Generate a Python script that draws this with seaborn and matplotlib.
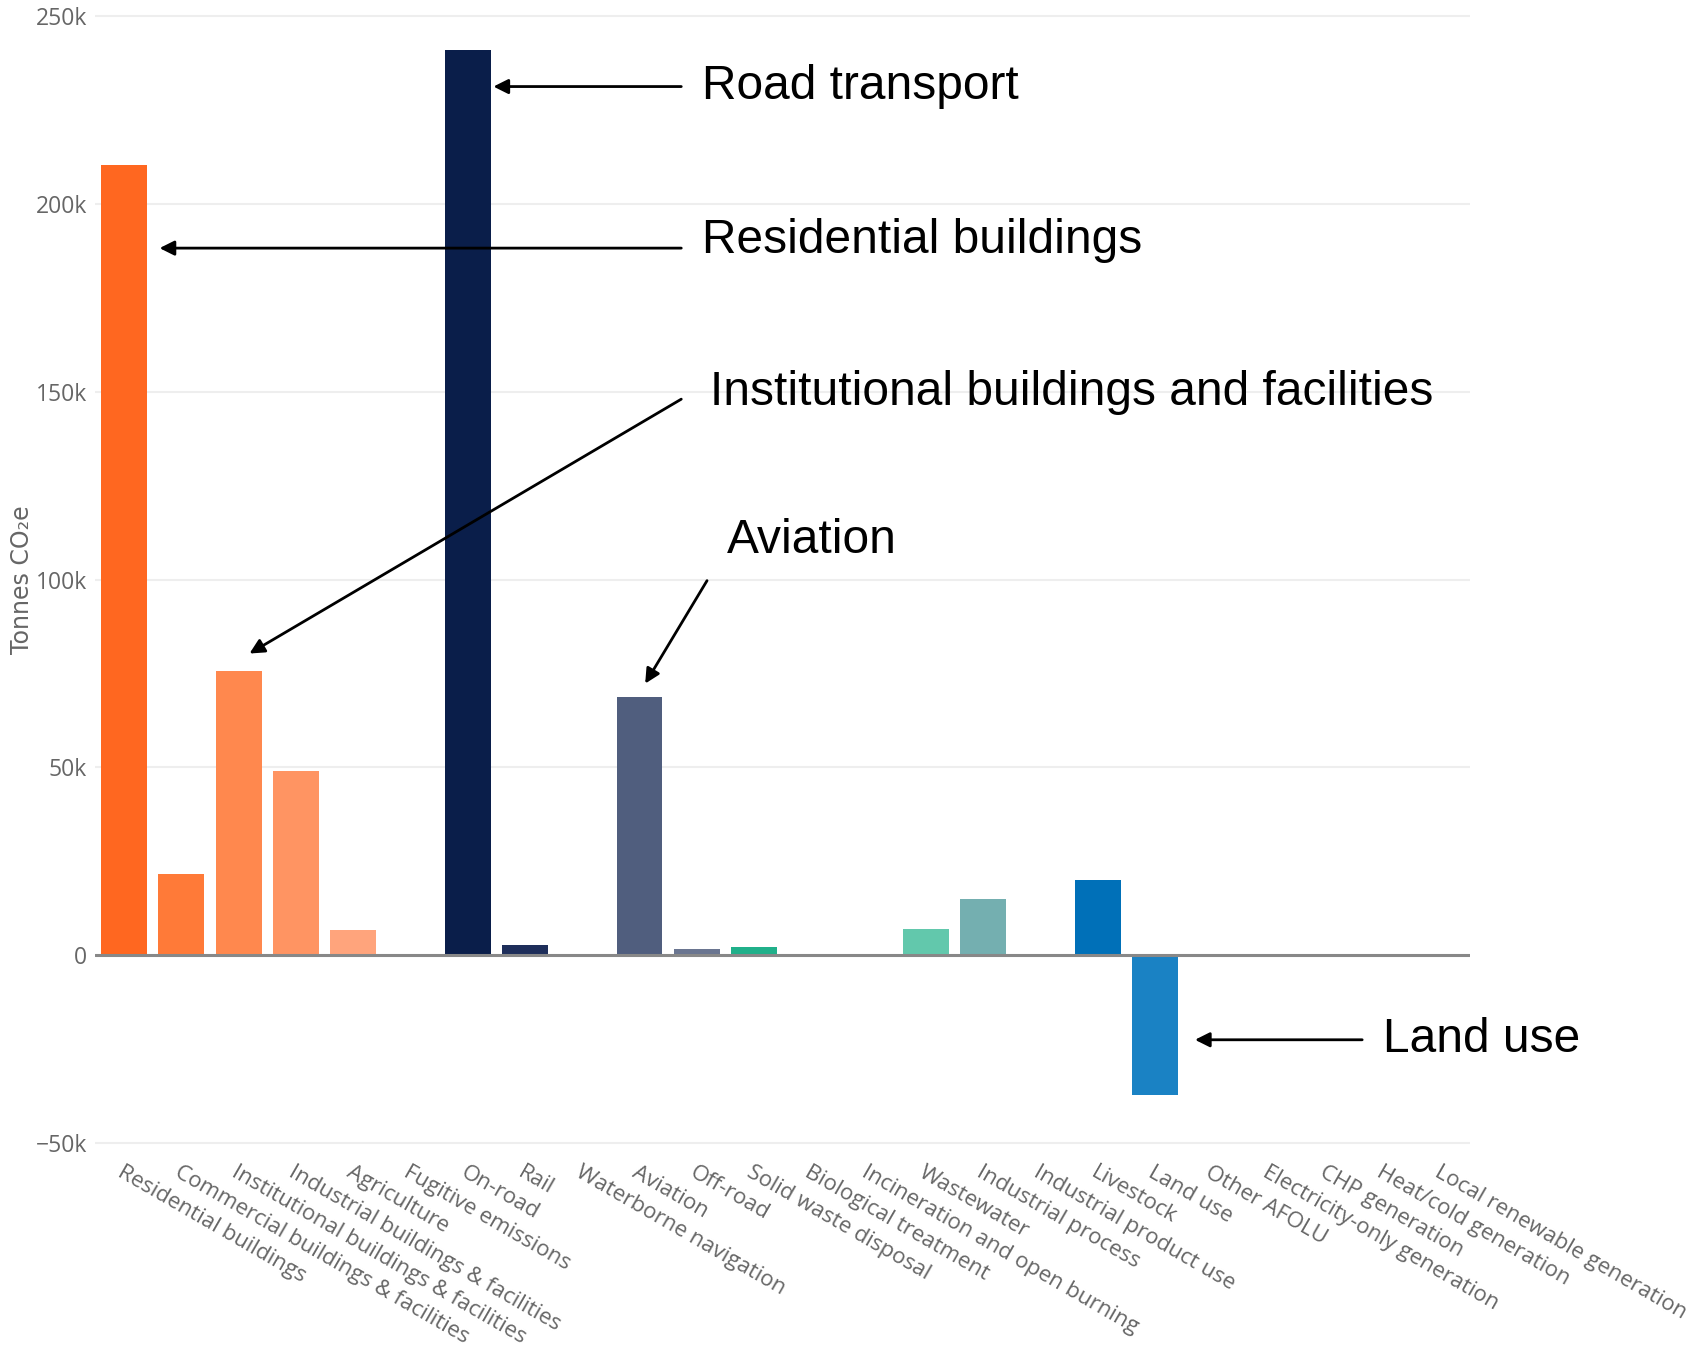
import matplotlib
matplotlib.use("Agg")
import matplotlib.pyplot as plt
import seaborn as sns
import pandas as pd

categories = [
    "Residential buildings", "Commercial buildings & facilities",
    "Institutional buildings & facilities", "Industrial buildings & facilities",
    "Agriculture", "Fugitive emissions", "On-road", "Rail",
    "Waterborne navigation", "Aviation", "Off-road", "Solid waste disposal",
    "Biological treatment", "Incineration and open burning", "Wastewater",
    "Industrial process", "Industrial product use", "Livestock", "Land use",
    "Other AFOLU", "Electricity-only generation", "CHP generation",
    "Heat/cold generation", "Local renewable generation",
]
values = [
    210400, 21700, 75700, 49100, 6600, 0, 241000, 2600,
    0, 68800, 1700, 2300,
    0, 0, 6900,
    15000, 0, 20000, -37300,
    0, 0, 0, 0, 0,
]
colors = [
    "#ff6720", "#ff7a38", "#ff884e", "#ff9462", "#ffa47c", "#ffb08e", "#0a1e4a", "#1e2e5a",
    "#38466a", "#505e7e", "#6a7590", "#20b08a",
    "#3cbc98", "#50c2a2", "#62c8ac",
    "#74afb0", "#3a8fb8", "#0070b8", "#1a82c4",
    "#3592cc", "#4aa0d2", "#60aed8", "#76bcde", "#8ccae4",
]
yticks = [-50000, 0, 50000, 100000, 150000, 200000, 250000]
ytick_labels = ["\u221250k", "0", "50k", "100k", "150k", "200k", "250k"]

df = pd.DataFrame({"category": categories, "value": values})

sns.set_style("white")
plt.rcParams["font.family"] = ["Open Sans", "DejaVu Sans"]

fig = plt.figure(figsize=(17.01, 13.51), dpi=100)
ax = fig.add_axes([0.0561, 0.1511, 0.808, 0.8399])

sns.barplot(data=df, x="category", y="value", hue="category",
            palette=dict(zip(categories, colors)), legend=False,
            width=0.8, linewidth=0, saturation=1, ax=ax)

ax.set_xlim(-0.5, len(categories) - 0.5)
ax.set_ylim(-51000, 251000)
ax.set_yticks(yticks)
ax.set_yticklabels(ytick_labels)
for y in yticks:
    if y == 0:
        ax.axhline(0, color="#888888", lw=2.2, zorder=3)
    else:
        ax.axhline(y, color="#eeeeee", lw=1.5, zorder=0)
for s in ax.spines.values():
    s.set_visible(False)

ax.tick_params(axis="y", length=0, colors="#666666", labelsize=16.5, pad=6)
ax.tick_params(axis="x", length=0, colors="#666666", labelsize=16, pad=11)
ax.set_xticks(range(len(categories)))
ax.set_xticklabels(categories, rotation=-30, ha="left", va="top",
                   rotation_mode="anchor")
ax.set_xlabel("")
ax.set_ylabel("Tonnes CO\u2082e", color="#666666", fontsize=17,
              family=["DejaVu Sans"])
ax.yaxis.set_label_coords(-0.045, 0.5)

# annotations
arrow = dict(arrowstyle="-|>", color="black", lw=2, mutation_scale=22,
             shrinkA=0, shrinkB=0)
tfont = dict(fontsize=34.5, family=["Liberation Sans", "DejaVu Sans"],
             color="black", va="center", ha="left")

ax.annotate("", xy=(6.45, 231200), xytext=(9.73, 231200), arrowprops=arrow,
            annotation_clip=False)
ax.text(10.09, 231200, "Road transport", **tfont)

ax.annotate("", xy=(0.62, 188200), xytext=(9.73, 188200), arrowprops=arrow,
            annotation_clip=False)
ax.text(10.09, 190200, "Residential buildings", **tfont)

ax.annotate("", xy=(2.19, 80300), xytext=(9.73, 148000), arrowprops=arrow,
            annotation_clip=False)
ax.text(10.24, 149700, "Institutional buildings and facilities", **tfont)

ax.annotate("", xy=(9.1, 72300), xytext=(10.18, 99700), arrowprops=arrow,
            annotation_clip=False)
ax.text(10.52, 110400, "Aviation", **tfont)

ax.annotate("", xy=(18.7, -22500), xytext=(21.62, -22500), arrowprops=arrow,
            annotation_clip=False)
ax.text(21.98, -22500, "Land use", clip_on=False, **tfont)

fig.savefig("out.png", dpi=100)
